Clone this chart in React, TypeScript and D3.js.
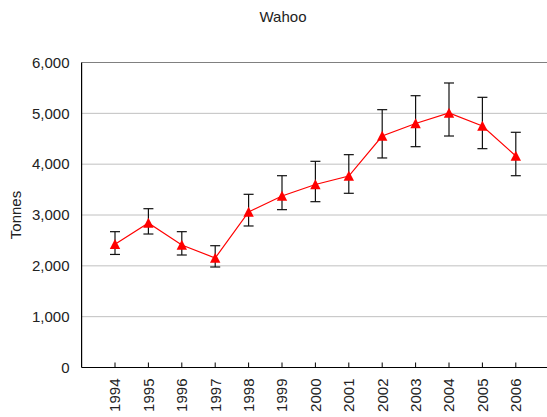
import React from "react";
import * as d3 from "d3";

const years = ["1994","1995","1996","1997","1998","1999","2000","2001","2002","2003","2004","2005","2006"];
const values = [2425, 2843, 2410, 2154, 3059, 3374, 3600, 3767, 4554, 4800, 5007, 4751, 4161];
const upper = [2672, 3124, 2672, 2396, 3407, 3773, 4056, 4187, 5072, 5347, 5597, 5315, 4627];
const lower = [2224, 2626, 2213, 1977, 2784, 3105, 3262, 3427, 4122, 4344, 4554, 4305, 3773];
const yTicks = [0, 1000, 2000, 3000, 4000, 5000, 6000];

const W = 547, H = 417;
const FONT = "'Liberation Sans', Arial, sans-serif";

export default function App() {
  const x = d3.scalePoint<string>().domain(years).range([115, 515.8]);
  const y = d3.scaleLinear().domain([0, 6000]).range([367.5, 62.5]);
  const left = 81.6, right = 549, bottom = y(0), top = y(6000);
  const line = d3.line<number>().x((_, i) => x(years[i])!).y((d) => y(d));
  const tri = "M0,-5.2L5.2,4.8L-5.2,4.8Z";
  const fmt = d3.format(",");
  return (
    <svg width={W} height={H} style={{ position: "absolute", left: 0, top: 0, background: "#fff" }} fontFamily={FONT}>
      <text x={283} y={22} textAnchor="middle" fontSize={15} fill="#222">Wahoo</text>
      {yTicks.slice(1, -1).map((t) => (
        <line key={t} x1={left} x2={right} y1={y(t)} y2={y(t)} stroke="#c0c0c0" strokeWidth={1} />
      ))}
      <line x1={left} x2={right} y1={top} y2={top} stroke="#808080" strokeWidth={1} />
      <line x1={left} x2={left} y1={top} y2={bottom} stroke="#000" strokeWidth={1.2} />
      <line x1={left} x2={right} y1={bottom} y2={bottom} stroke="#000" strokeWidth={1.2} />
      {yTicks.map((t) => (
        <text key={t} x={69.5} y={y(t)} dy="0.35em" textAnchor="end" fontSize={15} fill="#222">{fmt(t)}</text>
      ))}
      {years.map((yr) => (
        <g key={yr}>
          <line x1={x(yr)} x2={x(yr)} y1={bottom} y2={bottom - 5} stroke="#000" strokeWidth={1} />
          <text transform={`translate(${x(yr)! + 5.3},${bottom + 11}) rotate(-90)`} textAnchor="end" fontSize={15} fill="#222">{yr}</text>
        </g>
      ))}
      <text transform={`translate(21,215) rotate(-90)`} textAnchor="middle" fontSize={15} fill="#222">Tonnes</text>
      <path d={line(values)!} fill="none" stroke="#ff0000" strokeWidth={1.2} />
      {years.map((yr, i) => (
        <g key={yr} stroke="#111" strokeWidth={1.2}>
          <line x1={x(yr)} x2={x(yr)} y1={y(upper[i])} y2={y(lower[i])} />
          <line x1={x(yr)! - 5} x2={x(yr)! + 5} y1={y(upper[i])} y2={y(upper[i])} />
          <line x1={x(yr)! - 5} x2={x(yr)! + 5} y1={y(lower[i])} y2={y(lower[i])} />
        </g>
      ))}
      {years.map((yr, i) => (
        <path key={yr} d={tri} transform={`translate(${x(yr)},${y(values[i])})`} fill="#ff0000" />
      ))}
    </svg>
  );
}
